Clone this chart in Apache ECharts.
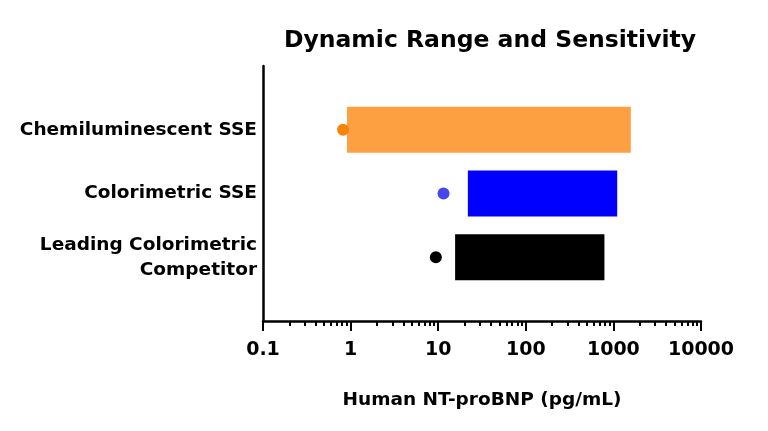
<!DOCTYPE html>
<html>
<head>
<meta charset="utf-8">
<script src="https://cdn.jsdelivr.net/npm/echarts@6/dist/echarts.min.js"></script>
<style>html,body{margin:0;padding:0;background:#fff}#c{width:768px;height:431px}</style>
</head>
<body>
<div id="c"></div>
<script>
const categories = ['Leading Colorimetric\nCompetitor', 'Colorimetric SSE', 'Chemiluminescent SSE'];
const rangeStart = [15.6, 21.8, 0.91];
const rangeEnd = [790, 1105, 1580];
const sensitivity = [9.4, 11.5, 0.82];
const barColors = ['#000000', '#0000FF', '#FCA042'];
const dotColors = ['#000000', '#4646EE', '#F7820E'];
const xTickLabels = ['0.1', '1', '10', '100', '1000', '10000'];

const FONT = 'DejaVu Sans';
const chart = echarts.init(document.getElementById('c'), null, {renderer: 'canvas'});

const rangeData = categories.map((c, i) => ({value: [rangeStart[i], rangeEnd[i], i + 1], itemStyle: {color: barColors[i]}}));
const dotData = categories.map((c, i) => ({value: [sensitivity[i], i + 1], itemStyle: {color: dotColors[i], opacity: 1}}));

chart.setOption({
  animation: false,
  backgroundColor: '#fff',
  title: {
    text: 'Dynamic Range and Sensitivity',
    left: 485, top: 24, textAlign: 'center',
    textStyle: {fontFamily: FONT, fontWeight: 'bold', fontSize: 23.5, color: '#000'}
  },
  grid: {left: 263, right: 67, top: 66, bottom: 110, containLabel: false},
  xAxis: {
    type: 'log', logBase: 10, min: 0.1, max: 10000,
    name: 'Human NT-proBNP (pg/mL)', nameLocation: 'middle', nameGap: 70,
    nameTextStyle: {fontFamily: FONT, fontWeight: 'bold', fontSize: 18.5, color: '#000'},
    axisLine: {lineStyle: {color: '#000', width: 2.5}},
    axisTick: {show: true, length: 10, lineStyle: {color: '#000', width: 2}},
    minorTick: {show: true, splitNumber: 9, length: 5, lineStyle: {color: '#000', width: 2}},
    splitLine: {show: false},
    axisLabel: {
      margin: 20,
      fontFamily: FONT, fontWeight: 'bold', fontSize: 19, color: '#000',
      formatter: function (v) {
        const idx = Math.round(Math.log10(v)) + 1;
        return xTickLabels[idx] !== undefined ? xTickLabels[idx] : '';
      }
    }
  },
  yAxis: {
    type: 'value', min: 0, max: 4, interval: 1,
    axisLine: {show: true, lineStyle: {color: '#000', width: 2.5}},
    axisTick: {show: false},
    splitLine: {show: false},
    axisLabel: {
      margin: 6,
      fontFamily: FONT, fontWeight: 'bold', fontSize: 18.5, color: '#000', lineHeight: 25, align: 'right',
      formatter: function (v) { return categories[v - 1] || ''; }
    }
  },
  series: [
    {
      type: 'custom',
      data: rangeData,
      encode: {x: [0, 1], y: 2},
      renderItem: function (params, api) {
        const p0 = api.coord([api.value(0), api.value(2)]);
        const p1 = api.coord([api.value(1), api.value(2)]);
        const h = api.size([0, 1])[1] * 0.72;
        return {
          type: 'rect',
          shape: {x: p0[0], y: p0[1] - h / 2, width: p1[0] - p0[0], height: h},
          style: {fill: api.visual('color')}
        };
      }
    },
    {
      type: 'scatter',
      data: dotData,
      symbol: 'circle',
      symbolSize: 12,
      itemStyle: {opacity: 1},
      z: 5
    }
  ]
});
</script>
</body>
</html>
